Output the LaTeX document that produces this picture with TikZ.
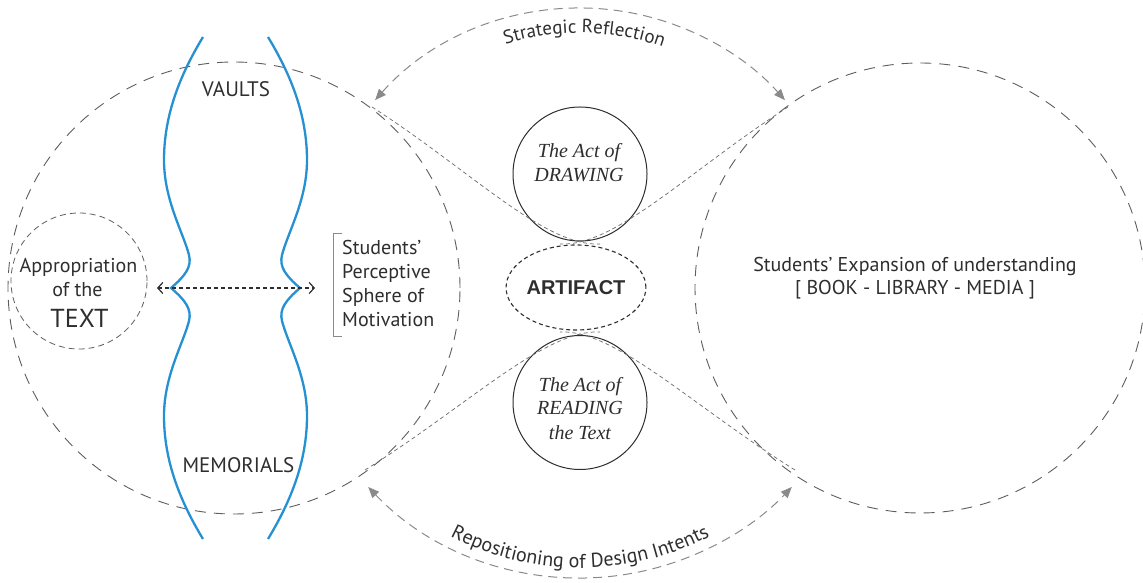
\documentclass[tikz,border=0pt]{standalone}
\usepackage{fontspec}
\setmainfont{PT Sans}
\newfontfamily\tms{Liberation Serif}
\newfontfamily\arl{Liberation Sans}
\usetikzlibrary{arrows.meta,decorations.text,calc,shapes.geometric}
\definecolor{txt}{HTML}{2E2E2E}
\definecolor{bl}{RGB}{38,145,210}
\definecolor{cg}{HTML}{5E5E5E}
\definecolor{ag}{HTML}{8A8A8A}
\definecolor{tg}{HTML}{6A6A6A}
\begin{document}
\begin{tikzpicture}[x=1pt,y=1pt,
  bigc/.style={circle, draw=cg, dash pattern=on 11pt off 8pt, line width=0.9pt, inner sep=0pt},
  actc/.style={circle, draw=txt, line width=1pt, minimum size=134pt, inner sep=0pt},
  smallc/.style={circle, draw=cg, dash pattern=on 6pt off 4pt, line width=0.8pt, minimum size=136pt, inner sep=0pt},
  lbl/.style={font=\fontsize{20}{24}\selectfont, text=txt, inner sep=0pt, anchor=base},
  lbll/.style={lbl, anchor=base west},
  actt/.style={font=\tms\itshape\fontsize{20}{24}\selectfont, text=txt, inner sep=0pt, anchor=base},
  arcst/.style={draw=ag, dash pattern=on 9pt off 6pt, line width=1pt},
  tipst/.style={{Triangle[length=11pt,width=9pt]}-{Triangle[length=11pt,width=9pt]}},
  thinl/.style={draw=tg, dash pattern=on 4pt off 3pt, line width=0.7pt},
  bluel/.style={draw=bl, line width=2.3pt},
]
\useasboundingbox (0,0) rectangle (1143,583);
\fill[white] (0,0) rectangle (1143,583);

% big circles
\node[bigc, minimum size=452pt] (L) at (234,295) {};
\node[bigc, minimum size=450pt] (R) at (920,295) {};

% small circle
\node[smallc] (S) at (79,302) {};
\node[lbl] (ap1) at (78.5,310) {Appropriation};
\node[lbl] (ap2) at (77.5,286) {of the};
\node[lbl, font=\fontsize{26}{30}\selectfont] (ap3) at (79.5,255) {TEXT};

% act circles
\node[actc] (D) at (580,409) {};
\node[actt] (d1) at (579,425) {The Act of};
\node[actt] (d2) at (579,401) {DRAWING};
\node[actc] (RD) at (580,180.5) {};
\node[actt] (r1) at (580,191) {The Act of};
\node[actt] (r2) at (580,168) {READING};
\node[actt] (r3) at (580,143) {the Text};

% artifact
\node[ellipse, draw=txt, dash pattern=on 4pt off 3pt, line width=1.1pt,
      minimum width=121pt, minimum height=85pt, inner sep=0pt,
      font=\arl\bfseries\fontsize{20}{24}\selectfont, text=txt] (A) at (576,295.5) {ARTIFACT};

% thin dashed curves
\coordinate (t1) at (372,476);
\coordinate (t2) at (788,476);
\coordinate (b1) at (365,113);
\coordinate (b2) at (795,113);
\coordinate (t1e) at (600,339);
\coordinate (t2e) at (560,339);
\coordinate (b1e) at (600,251);
\coordinate (b2e) at (560,251);
\draw[thinl] (t1) .. controls (470,413) and (545,336) .. (t1e);
\draw[thinl] (t2) .. controls (690,413) and (615,336) .. (t2e);
\draw[thinl] (b1) .. controls (465,175) and (545,254) .. (b1e);
\draw[thinl] (b2) .. controls (695,175) and (615,254) .. (b2e);

% arcs
\coordinate (tc) at (580,301);
\coordinate (bc) at (580,297);
\draw[arcst, tipst] ($(tc)+(138.4:274)$) arc[start angle=138.4, end angle=41.6, radius=274];
\draw[arcst, tipst] ($(bc)+(223.5:292)$) arc[start angle=223.5, end angle=316.5, radius=292];
\path[decorate, decoration={text along path, text align=center, text color=txt,
  text={|\fontsize{19}{22}\selectfont|Strategic Reflection}}]
  ($(tc)+(124:249)$) arc[start angle=124, end angle=54, radius=249];
\path[decorate, decoration={text along path, text align=center, text color=txt,
  text={|\fontsize{20}{23}\selectfont|Repositioning of Design Intents}}]
  ($(bc)+(235:282)$) arc[start angle=235, end angle=305, radius=282];

% blue curves
\begin{scope}[shift={(0,583)}, yscale=-1]
\draw[bluel] (203,37) .. controls (180,75) and (164,115) .. (164,160)
  .. controls (164,200) and (183,232) .. (189,255)
  .. controls (192,267) and (185,276) .. (171,288)
  .. controls (185,300) and (192,309) .. (189,321)
  .. controls (183,344) and (164,376) .. (164,416)
  .. controls (164,461) and (180,501) .. (203,539);
\draw[bluel] (268,37) .. controls (291,75) and (307,115) .. (307,160)
  .. controls (307,200) and (288,232) .. (282,255)
  .. controls (279,267) and (286,276) .. (300,288)
  .. controls (286,300) and (279,309) .. (282,321)
  .. controls (288,344) and (307,376) .. (307,416)
  .. controls (307,461) and (291,501) .. (268,539);
\end{scope}

% pinch arrow
\coordinate (pl) at (157,295);
\coordinate (pr) at (315,295);
\draw[draw=txt, dash pattern=on 4pt off 3pt, line width=1.2pt,
  {Straight Barb[length=5pt,width=11pt]}-{Straight Barb[length=5pt,width=11pt]}] (pl) -- (pr);

\node[lbl, font=\fontsize{21}{24}\selectfont] (v) at (236,486) {VAULTS};
\node[lbl, font=\fontsize{21}{24}\selectfont] (m) at (238.5,110) {MEMORIALS};

% bracket + text
\coordinate (k1) at (342,350);
\coordinate (k2) at (342,247);
\draw[draw=ag, line width=0.8pt] (k1) -- (333,350) -- (333,247) -- (k2);
\node[lbll] (s1) at (342,328) {Students’};
\node[lbll] (s2) at (342,304) {Perceptive};
\node[lbll] (s3) at (342,280) {Sphere of};
\node[lbll] (s4) at (342,256) {Motivation};

% right text
\node[lbl] (e1) at (915,311) {Students’ Expansion of understanding};
\node[lbl] (e2) at (915,288) {[ BOOK - LIBRARY - MEDIA ]};
\end{tikzpicture}
\end{document}
